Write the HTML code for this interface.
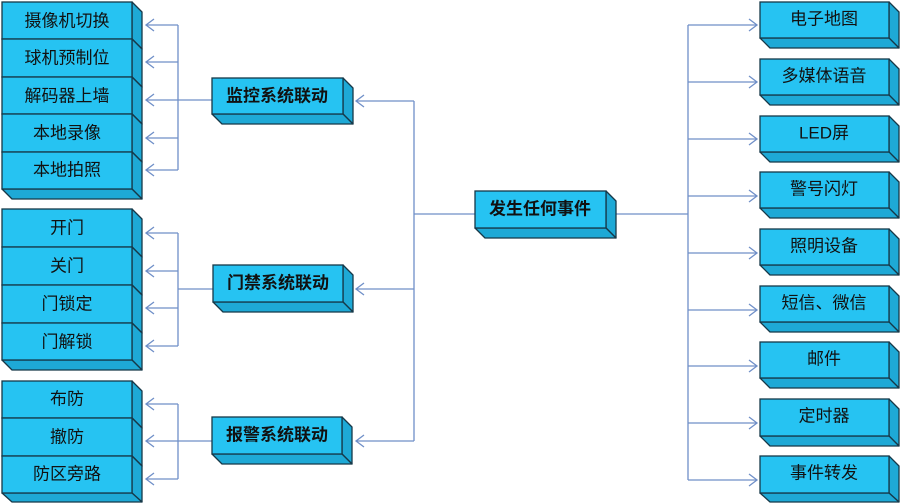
<!DOCTYPE html>
<html><head><meta charset="utf-8"><style>
html,body{margin:0;padding:0;background:#fff;}
svg{display:block;}
text{font-family:"Liberation Sans","Noto Sans CJK SC",sans-serif;font-size:17px;fill:#111;text-anchor:middle;dominant-baseline:central;}
.b{font-weight:bold;}
.f{fill:#26c3f2;stroke:#163848;stroke-width:1.3;}
.s{fill:#1ea9d6;stroke:#163848;stroke-width:1.3;stroke-linejoin:round;}
.l{fill:none;stroke:#6f8fc8;stroke-width:1.3;}
</style></head><body>
<svg width="901" height="503" viewBox="0 0 901 503" xmlns="http://www.w3.org/2000/svg">
<defs>
<g id="none"></g>
</defs>
<!-- connectors -->
<g class="l">
<!-- group1 -->
<path d="M178 25V170M146 25H178M146 62H178M146 100H178M146 138H178M146 170H178M178 100H212"/>
<path d="M154 19L146 25L154 31M154 56L146 62L154 68M154 94L146 100L154 106M154 132L146 138L154 144M154 164L146 170L154 176"/>
<!-- group2 -->
<path d="M178 233V346M146 233H178M146 271H178M146 308H178M146 346H178M178 289H213"/>
<path d="M154 227L146 233L154 239M154 265L146 271L154 277M154 302L146 308L154 314M154 340L146 346L154 352"/>
<!-- group3 -->
<path d="M178 404V479M146 404H178M146 441H178M146 479H178M178 441H212"/>
<path d="M154 398L146 404L154 410M154 435L146 441L154 447M154 473L146 479L154 485"/>
<!-- center left trunk -->
<path d="M414 101V441M356 101H414M356 289H414M356 441H414M414 214H475"/>
<path d="M364 95L356 101L364 107M364 283L356 289L364 295M364 435L356 441L364 447"/>
<!-- right trunk -->
<path d="M616 214H688M688 25V480M688 25H757M688 82H757M688 139H757M688 196H757M688 253H757M688 310H757M688 366H757M688 423H757M688 480H757"/>
<path d="M749 19L757 25L749 31M749 76L757 82L749 88M749 133L757 139L749 145M749 190L757 196L749 202M749 247L757 253L749 259M749 304L757 310L749 316M749 360L757 366L749 372M749 417L757 423L749 429M749 474L757 480L749 486"/>
</g>

<!-- left group 1 -->
<g><polygon class="s" points="132,2 142,12 142,49 132,39"/><polygon class="s" points="2,39 132,39 142,49 12,49"/><rect class="f" x="2" y="2" width="130" height="37"/><text x="67" y="21">摄像机切换</text></g>
<g><polygon class="s" points="132,39 142,49 142,87 132,77"/><polygon class="s" points="2,77 132,77 142,87 12,87"/><rect class="f" x="2" y="39" width="130" height="38"/><text x="67" y="58">球机预制位</text></g>
<g><polygon class="s" points="132,77 142,87 142,124 132,114"/><polygon class="s" points="2,114 132,114 142,124 12,124"/><rect class="f" x="2" y="77" width="130" height="37"/><text x="67" y="96">解码器上墙</text></g>
<g><polygon class="s" points="132,114 142,124 142,162 132,152"/><polygon class="s" points="2,152 132,152 142,162 12,162"/><rect class="f" x="2" y="114" width="130" height="38"/><text x="67" y="133">本地录像</text></g>
<g><polygon class="s" points="132,152 142,162 142,199 132,189"/><polygon class="s" points="2,189 132,189 142,199 12,199"/><rect class="f" x="2" y="152" width="130" height="37"/><text x="67" y="170">本地拍照</text></g>

<!-- left group 2 -->
<g><polygon class="s" points="132,209 142,219 142,257 132,247"/><polygon class="s" points="2,247 132,247 142,257 12,257"/><rect class="f" x="2" y="209" width="130" height="38"/><text x="67" y="228">开门</text></g>
<g><polygon class="s" points="132,247 142,257 142,295 132,285"/><polygon class="s" points="2,285 132,285 142,295 12,295"/><rect class="f" x="2" y="247" width="130" height="38"/><text x="67" y="266">关门</text></g>
<g><polygon class="s" points="132,285 142,295 142,333 132,323"/><polygon class="s" points="2,323 132,323 142,333 12,333"/><rect class="f" x="2" y="285" width="130" height="38"/><text x="67" y="304">门锁定</text></g>
<g><polygon class="s" points="132,323 142,333 142,370 132,360"/><polygon class="s" points="2,360 132,360 142,370 12,370"/><rect class="f" x="2" y="323" width="130" height="37"/><text x="67" y="342">门解锁</text></g>

<!-- left group 3 -->
<g><polygon class="s" points="132,381 142,391 142,428 132,418"/><polygon class="s" points="2,418 132,418 142,428 12,428"/><rect class="f" x="2" y="381" width="130" height="37"/><text x="67" y="399">布防</text></g>
<g><polygon class="s" points="132,418 142,428 142,466 132,456"/><polygon class="s" points="2,456 132,456 142,466 12,466"/><rect class="f" x="2" y="418" width="130" height="38"/><text x="67" y="437">撤防</text></g>
<g><polygon class="s" points="132,456 142,466 142,502 132,493"/><polygon class="s" points="2,493 132,493 142,502 12,502"/><rect class="f" x="2" y="456" width="130" height="37"/><text x="67" y="474">防区旁路</text></g>

<!-- middle boxes -->
<g><polygon class="s" points="343,78 353,88 353,124 343,114"/><polygon class="s" points="212,114 343,114 353,124 222,124"/><rect class="f" x="212" y="78" width="131" height="36"/><text class="b" x="277" y="96">监控系统联动</text></g>
<g><polygon class="s" points="343,265 353,275 353,312 343,302"/><polygon class="s" points="213,302 343,302 353,312 223,312"/><rect class="f" x="213" y="265" width="130" height="37"/><text class="b" x="278" y="283">门禁系统联动</text></g>
<g><polygon class="s" points="342,417 352,427 352,464 342,454"/><polygon class="s" points="212,454 342,454 352,464 222,464"/><rect class="f" x="212" y="417" width="130" height="37"/><text class="b" x="277" y="435">报警系统联动</text></g>

<!-- center -->
<g><polygon class="s" points="606,191 616,201 616,238 606,228"/><polygon class="s" points="475,228 606,228 616,238 485,238"/><rect class="f" x="475" y="191" width="131" height="37"/><text class="b" x="540" y="209">发生任何事件</text></g>

<!-- right boxes -->
<g><polygon class="s" points="889,2 899,12 899,48 889,38"/><polygon class="s" points="760,38 889,38 899,48 770,48"/><rect class="f" x="760" y="2" width="129" height="36"/><text x="824" y="19">电子地图</text></g>
<g><polygon class="s" points="889,59 899,69 899,105 889,95"/><polygon class="s" points="760,95 889,95 899,105 770,105"/><rect class="f" x="760" y="59" width="129" height="36"/><text x="824" y="76">多媒体语音</text></g>
<g><polygon class="s" points="889,116 899,126 899,162 889,152"/><polygon class="s" points="760,152 889,152 899,162 770,162"/><rect class="f" x="760" y="116" width="129" height="36"/><text x="824" y="133">LED屏</text></g>
<g><polygon class="s" points="889,172 899,182 899,218 889,208"/><polygon class="s" points="760,208 889,208 899,218 770,218"/><rect class="f" x="760" y="172" width="129" height="36"/><text x="824" y="189">警号闪灯</text></g>
<g><polygon class="s" points="889,229 899,239 899,275 889,265"/><polygon class="s" points="760,265 889,265 899,275 770,275"/><rect class="f" x="760" y="229" width="129" height="36"/><text x="824" y="246">照明设备</text></g>
<g><polygon class="s" points="889,286 899,296 899,332 889,322"/><polygon class="s" points="760,322 889,322 899,332 770,332"/><rect class="f" x="760" y="286" width="129" height="36"/><text x="824" y="303">短信、微信</text></g>
<g><polygon class="s" points="889,342 899,352 899,388 889,378"/><polygon class="s" points="760,378 889,378 899,388 770,388"/><rect class="f" x="760" y="342" width="129" height="36"/><text x="824" y="359">邮件</text></g>
<g><polygon class="s" points="889,399 899,409 899,446 889,436"/><polygon class="s" points="760,436 889,436 899,446 770,446"/><rect class="f" x="760" y="399" width="129" height="37"/><text x="824" y="416">定时器</text></g>
<g><polygon class="s" points="889,456 899,466 899,502 889,493"/><polygon class="s" points="760,493 889,493 899,502 770,502"/><rect class="f" x="760" y="456" width="129" height="37"/><text x="824" y="473">事件转发</text></g>
</svg>
</body></html>
